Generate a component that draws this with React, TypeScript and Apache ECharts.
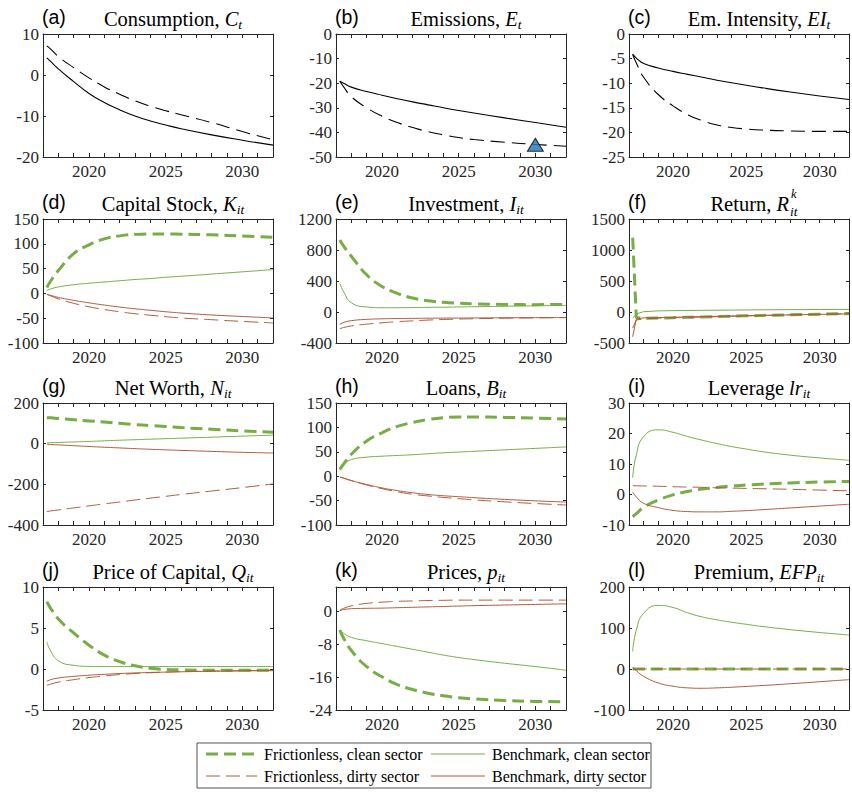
import React, { useEffect, useRef } from "react";
import * as echarts from "echarts";

// ---------- data ----------
const YEARS = [2017.25, 2017.5, 2018, 2019, 2020, 2021, 2022, 2023, 2024, 2025, 2026, 2028, 2030, 2032];
const X_LABELED = [2020, 2025, 2030];

// (a) Consumption
const consumptionFrictionless = [7.1, 6.3, 4.5, 1.8, -0.7, -2.9, -4.7, -6.3, -7.6, -8.7, -9.7, -11.6, -13.8, -15.8];
const consumptionBenchmark = [4.2, 3.3, 1.5, -1.6, -4.5, -6.7, -8.5, -10.0, -11.2, -12.2, -13.1, -14.6, -15.9, -17.1];
// (b) Emissions
const emissionsFrictionless = [-19.2, -21.5, -25.5, -30.0, -33.4, -36.0, -38.0, -39.7, -41.0, -42.1, -42.9, -44.0, -44.9, -45.6];
const emissionsBenchmark = [-19.2, -20.0, -21.6, -23.4, -24.9, -26.3, -27.6, -28.8, -30.0, -31.1, -32.1, -34.1, -36.0, -37.9];
const TARGET_YEAR = 2030;
const TARGET_VALUE = -45;
// (c) Emission intensity
const intensityFrictionless = [-4.2, -5.9, -8.8, -12.3, -14.6, -16.4, -17.6, -18.5, -19.0, -19.3, -19.5, -19.7, -19.8, -19.8];
const intensityBenchmark = [-4.1, -4.9, -6.0, -6.9, -7.6, -8.2, -8.8, -9.4, -9.9, -10.4, -10.9, -11.8, -12.6, -13.3];
// (d) Capital stock
const capitalFC = [12, 25, 46, 80, 98, 110, 116, 119, 120, 120, 119.5, 118, 115.5, 113];
const capitalBC = [6, 9, 13, 17.5, 20.5, 23, 25.5, 28, 30, 32.5, 34.5, 39, 43.5, 48];
const capitalFD = [-2, -5, -11, -20, -27, -32.5, -37, -41, -44, -47, -49.5, -53, -56.5, -59.5];
const capitalBD = [-2, -4, -8, -14, -19, -23.5, -27.5, -31, -34, -37, -39.5, -43.5, -46.5, -49.5];
// (e) Investment
const investmentFC = [930, 850, 720, 480, 330, 240, 180, 145, 125, 113, 106, 97, 95, 98];
const investmentBC = [370, 260, 120, 65, 55, 55, 57, 60, 62, 65, 68, 74, 80, 85];
const investmentFD = [-215, -200, -180, -157, -140, -125, -114, -104, -97, -91, -87, -80, -76, -72];
const investmentBD = [-160, -135, -112, -95, -88, -84, -82, -80, -79, -78, -77, -75, -73, -72];
// (f) Return
const returnFC = [1200, -90, -100, -97, -92, -86, -80, -74, -68, -62, -56, -45, -35, -25];
const returnBC = [-100, -30, 5, 18, 22, 25, 27, 29, 31, 33, 35, 38, 40, 42];
const returnFD = [-260, -130, -110, -100, -93, -87, -81, -75, -69, -63, -57, -46, -36, -27];
const returnBD = [-400, -110, -95, -90, -86, -80, -75, -70, -65, -60, -55, -46, -38, -30];
// (g) Net worth
const netWorthFC = [128, 127, 124, 118, 112, 106, 100, 94, 89, 84, 79, 71, 63, 56];
const netWorthBC = [4, 5, 6, 8.5, 11, 14, 17, 19.5, 22, 24.5, 27, 32, 37, 42];
const netWorthFD = [-334, -331, -326, -316, -306, -296, -287, -277, -268, -259, -250, -233, -216, -198];
const netWorthBD = [-3, -4, -6, -10, -14, -17.5, -21, -24.5, -27.5, -30.5, -33, -38, -42.5, -46];
// (h) Loans
const loansFC = [14, 25, 45, 72, 89, 102, 110, 116, 120, 121.5, 121.5, 120.5, 119, 117];
const loansBC = [12, 24, 34, 39, 41, 42.5, 44, 46, 48, 49.5, 51, 54, 57, 60];
const loansFD = [-2, -4, -9, -18, -25.5, -32, -37, -40.5, -43.5, -46, -48.5, -52.5, -56, -59];
const loansBD = [-2, -4, -9, -17, -24, -29.5, -34, -37.5, -40, -42, -44, -47.5, -50.5, -53];
// (i) Leverage
const leverageFC = [-7.3, -6.3, -4.2, -1.8, -0.1, 1.0, 1.8, 2.3, 2.8, 3.1, 3.4, 3.8, 4.1, 4.3];
const leverageBC = [5.5, 13, 19, 21.2, 20.4, 19, 17.8, 16.7, 15.7, 14.9, 14.1, 12.9, 12.0, 11.2];
const leverageFD = [2.9, 2.85, 2.8, 2.7, 2.55, 2.45, 2.35, 2.2, 2.1, 2.0, 1.9, 1.7, 1.45, 1.2];
const leverageBD = [0.8, -0.8, -2.9, -4.3, -5.2, -5.6, -5.7, -5.7, -5.5, -5.3, -5.0, -4.4, -3.8, -3.2];
// (j) Price of capital
const qFC = [8.2, 7.4, 6.1, 4.4, 2.9, 1.7, 0.9, 0.4, 0.1, -0.05, -0.1, -0.15, -0.15, -0.15];
const qBC = [3.3, 2.2, 1.0, 0.45, 0.32, 0.3, 0.3, 0.3, 0.3, 0.3, 0.3, 0.3, 0.3, 0.3];
const qFD = [-2.0, -1.85, -1.6, -1.3, -1.05, -0.85, -0.68, -0.55, -0.45, -0.38, -0.32, -0.25, -0.2, -0.15];
const qBD = [-1.5, -1.3, -1.1, -0.9, -0.75, -0.65, -0.55, -0.48, -0.42, -0.38, -0.34, -0.28, -0.23, -0.2];
// (k) Prices
const pricesFC = [-4.5, -6.5, -9.5, -13.4, -15.9, -17.8, -19.0, -19.9, -20.5, -21.0, -21.3, -21.7, -21.9, -22.0];
const pricesBC = [-4.5, -5.3, -6.3, -7.1, -7.8, -8.5, -9.2, -9.9, -10.6, -11.2, -11.7, -12.6, -13.4, -14.3];
const pricesFD = [0.3, 0.8, 1.4, 2.0, 2.3, 2.5, 2.6, 2.7, 2.75, 2.8, 2.8, 2.8, 2.8, 2.8];
const pricesBD = [0.2, 0.5, 0.7, 0.8, 0.85, 0.95, 1.05, 1.15, 1.25, 1.35, 1.45, 1.6, 1.75, 1.9];
// (l) Premium
const premiumFC = [0, 0, 0, 0, 0, 0, 0, 0, 0, 0, 0, 0, 0, 0];
const premiumBC = [43, 95, 136, 155, 150, 137, 127, 120, 114, 109, 104, 96, 89, 83];
const premiumFD = [0, 0, 0, 0, 0, 0, 0, 0, 0, 0, 0, 0, 0, 0];
const premiumBD = [5, -4, -18, -34, -42, -46, -47, -46, -44.5, -42.5, -40.5, -36, -31, -26];

const LEGEND_LABELS = [
  "Frictionless, clean sector",
  "Benchmark, clean sector",
  "Frictionless, dirty sector",
  "Benchmark, dirty sector",
];

// ---------- styles ----------
const AXIS = "#262626";
const GREEN = "#77AD45";
const BROWN = "#B05A3C";
const BLACK = "#000000";
const SERIF = "Liberation Serif";
const SANS = "Liberation Sans";

const STYLE_FC = { color: GREEN, width: 3, type: [12, 6] as any };
const STYLE_BC = { color: GREEN, width: 1, type: "solid" as any };
const STYLE_FD = { color: BROWN, width: 1, type: [14, 6] as any };
const STYLE_BD = { color: BROWN, width: 1, type: "solid" as any };
const STYLE_KD = { color: BLACK, width: 1.1, type: [14, 7] as any };
const STYLE_KS = { color: BLACK, width: 1.1, type: "solid" as any };

const COL_LEFT = [43, 336, 629];
const ROW_TOP = [34, 219, 403, 587];
const ROW_H = [123, 124, 122, 123];
const PLOT_W = 230;

type Line = { data: number[]; style: any };
type Panel = {
  letter: string;
  title: string | null;
  yMin: number;
  yMax: number;
  yInt: number;
  smooth: boolean;
  lines: Line[];
};

const sectorLines = (fc: number[], bc: number[], fd: number[], bd: number[]): Line[] => [
  { data: fc, style: STYLE_FC },
  { data: bc, style: STYLE_BC },
  { data: fd, style: STYLE_FD },
  { data: bd, style: STYLE_BD },
];

const PANELS: Panel[] = [
  { letter: "(a)", title: "{r|Consumption, }{i|C}{s|t}", yMin: -20, yMax: 10, yInt: 10, smooth: true,
    lines: [{ data: consumptionFrictionless, style: STYLE_KD }, { data: consumptionBenchmark, style: STYLE_KS }] },
  { letter: "(b)", title: "{r|Emissions, }{i|E}{s|t}", yMin: -50, yMax: 0, yInt: 10, smooth: true,
    lines: [{ data: emissionsFrictionless, style: STYLE_KD }, { data: emissionsBenchmark, style: STYLE_KS }] },
  { letter: "(c)", title: "{r|Em. Intensity, }{i|EI}{s|t}", yMin: -25, yMax: 0, yInt: 5, smooth: true,
    lines: [{ data: intensityFrictionless, style: STYLE_KD }, { data: intensityBenchmark, style: STYLE_KS }] },
  { letter: "(d)", title: "{r|Capital Stock, }{i|K}{s|it}", yMin: -100, yMax: 150, yInt: 50, smooth: true,
    lines: sectorLines(capitalFC, capitalBC, capitalFD, capitalBD) },
  { letter: "(e)", title: "{r|Investment, }{i|I}{s|it}", yMin: -400, yMax: 1200, yInt: 400, smooth: true,
    lines: sectorLines(investmentFC, investmentBC, investmentFD, investmentBD) },
  { letter: "(f)", title: null, yMin: -500, yMax: 1500, yInt: 500, smooth: false,
    lines: sectorLines(returnFC, returnBC, returnFD, returnBD) },
  { letter: "(g)", title: "{r|Net Worth, }{i|N}{s|it}", yMin: -400, yMax: 200, yInt: 200, smooth: true,
    lines: sectorLines(netWorthFC, netWorthBC, netWorthFD, netWorthBD) },
  { letter: "(h)", title: "{r|Loans, }{i|B}{s|it}", yMin: -100, yMax: 150, yInt: 50, smooth: true,
    lines: sectorLines(loansFC, loansBC, loansFD, loansBD) },
  { letter: "(i)", title: "{r|Leverage }{i|lr}{s|it}", yMin: -10, yMax: 30, yInt: 10, smooth: true,
    lines: sectorLines(leverageFC, leverageBC, leverageFD, leverageBD) },
  { letter: "(j)", title: "{r|Price of Capital, }{i|Q}{s|it}", yMin: -5, yMax: 10, yInt: 5, smooth: true,
    lines: sectorLines(qFC, qBC, qFD, qBD) },
  { letter: "(k)", title: "{r|Prices, }{i|p}{s|it}", yMin: -24, yMax: 6, yInt: 8, smooth: true,
    lines: sectorLines(pricesFC, pricesBC, pricesFD, pricesBD) },
  { letter: "(l)", title: "{r|Premium, }{i|EFP}{s|it}", yMin: -100, yMax: 200, yInt: 100, smooth: true,
    lines: sectorLines(premiumFC, premiumBC, premiumFD, premiumBD) },
];

const TITLE_FS = 20.5;
const TITLE_RICH = {
  r: { fontFamily: SERIF, fontSize: TITLE_FS, fontStyle: "normal", color: "#000", lineHeight: 25, verticalAlign: "middle" },
  i: { fontFamily: SERIF, fontSize: TITLE_FS, fontStyle: "italic", color: "#000", lineHeight: 25, verticalAlign: "middle" },
  s: { fontFamily: SERIF, fontSize: 13.5, fontStyle: "italic", color: "#000", lineHeight: 14, verticalAlign: "bottom" },
};

function buildOption() {
  const grid: any[] = [];
  const xAxis: any[] = [];
  const yAxis: any[] = [];
  const series: any[] = [];
  const graphic: any[] = [];

  const axisLine = { show: true, onZero: false, lineStyle: { color: AXIS, width: 1 } };
  const tick = (len: number) => ({ show: true, inside: true, length: len, lineStyle: { color: AXIS, width: 1 } });

  PANELS.forEach((p, i) => {
    const r = Math.floor(i / 3);
    const c = i % 3;
    const left = COL_LEFT[c];
    const top = ROW_TOP[r];
    grid.push({ left, top, width: PLOT_W, height: ROW_H[r], containLabel: false });

    const xBase = { type: "value", gridIndex: i, min: 2017, max: 2032, interval: 1, splitLine: { show: false }, axisLine };
    xAxis.push({
      ...xBase, position: "bottom", axisTick: tick(4),
      axisLabel: {
        show: true, margin: 6, fontFamily: SERIF, fontSize: 17, color: AXIS,
        formatter: (v: number) => (X_LABELED.includes(v) ? String(v) : ""),
      },
    });
    xAxis.push({ ...xBase, position: "top", axisTick: tick(4), axisLabel: { show: false } });

    const yBase = { type: "value", gridIndex: i, min: p.yMin, max: p.yMax, interval: p.yInt, splitLine: { show: false }, axisLine };
    yAxis.push({
      ...yBase, position: "left", axisTick: tick(3),
      axisLabel: {
        show: true, margin: 4, fontFamily: SERIF, fontSize: 17, color: AXIS,
        formatter: (v: number) => ((v - p.yMin) % p.yInt === 0 ? String(v) : ""),
      },
    });
    yAxis.push({ ...yBase, position: "right", axisTick: tick(3), axisLabel: { show: false } });

    p.lines.forEach((l, k) => {
      series.push({
        type: "line",
        xAxisIndex: 2 * i,
        yAxisIndex: 2 * i,
        data: YEARS.map((x, j) => [x, l.data[j]]),
        symbol: "none",
        showSymbol: false,
        smooth: p.smooth ? 0.5 : false,
        lineStyle: { ...l.style, cap: "butt" },
        z: 2 + k,
        silent: true,
      });
    });

    // panel letter
    graphic.push({
      type: "text",
      x: left - 1,
      y: top - 17,
      style: { text: p.letter, fontFamily: SANS, fontSize: 19.5, fill: "#000", align: "left", verticalAlign: "middle" },
    });
    // title
    if (p.title) {
      graphic.push({
        type: "text",
        x: left + 130,
        y: top - 15,
        style: {
          text: p.title,
          fontFamily: SERIF,
          fontSize: TITLE_FS,
          lineHeight: 25,
          fill: "#000",
          align: "center",
          verticalAlign: "middle",
          rich: TITLE_RICH,
        },
      });
    }
  });

  // title of panel (f): Return, R^k_it (super- and subscript stacked)
  const fTop = ROW_TOP[1];
  graphic.push({
    type: "text",
    x: 789,
    y: fTop - 15,
    style: {
      text: "{r|Return, }{i|R}",
      fontFamily: SERIF,
      fontSize: TITLE_FS,
      lineHeight: 20,
      fill: "#000",
      align: "right",
      verticalAlign: "middle",
      rich: {
        r: { fontFamily: SERIF, fontSize: TITLE_FS, color: "#000", lineHeight: 20 },
        i: { fontFamily: SERIF, fontSize: TITLE_FS, fontStyle: "italic", color: "#000", lineHeight: 20 },
      },
    },
  });
  graphic.push({
    type: "text",
    x: 791,
    y: fTop - 25,
    style: { text: "k", fontFamily: SERIF, fontStyle: "italic", fontSize: 12.5, lineHeight: 12, fill: "#000", align: "left", verticalAlign: "middle" },
  });
  graphic.push({
    type: "text",
    x: 790,
    y: fTop - 8,
    style: { text: "it", fontFamily: SERIF, fontStyle: "italic", fontSize: 13.5, lineHeight: 12, fill: "#000", align: "left", verticalAlign: "middle" },
  });

  // target marker in panel (b)
  series.push({
    type: "scatter",
    xAxisIndex: 2,
    yAxisIndex: 2,
    data: [[TARGET_YEAR, TARGET_VALUE]],
    symbol: "triangle",
    symbolSize: [16, 13],
    itemStyle: { color: "#1F72BD", borderColor: "#000", borderWidth: 1 },
    z: 10,
    silent: true,
  });

  // legend box
  const LX = 197, LY = 743, LW = 454, LH = 45;
  graphic.push({
    type: "rect",
    shape: { x: LX, y: LY, width: LW, height: LH },
    style: { fill: "#fff", stroke: AXIS, lineWidth: 0.8 },
  });
  const legendStyles = [STYLE_FC, STYLE_BC, STYLE_FD, STYLE_BD];
  legendStyles.forEach((s, k) => {
    const col = k % 2;
    const row = Math.floor(k / 2);
    const y = row === 0 ? 754 : 776;
    const x1 = col === 0 ? 206 : 431;
    const x2 = col === 0 ? 257 : 485;
    const tx = col === 0 ? 264 : 492;
    graphic.push({
      type: "line",
      shape: { x1, y1: y, x2, y2: y },
      style: { stroke: s.color, lineWidth: s.width, lineDash: Array.isArray(s.type) ? s.type : null, lineCap: "butt" },
    });
    graphic.push({
      type: "text",
      x: tx,
      y,
      style: { text: LEGEND_LABELS[k], fontFamily: SERIF, fontSize: 16, fill: "#000", align: "left", verticalAlign: "middle" },
    });
  });

  return {
    animation: false,
    backgroundColor: "#ffffff",
    grid,
    xAxis,
    yAxis,
    series,
    graphic,
  };
}

export default function App() {
  const ref = useRef<HTMLDivElement>(null);
  useEffect(() => {
    if (!ref.current) return;
    const chart = echarts.init(ref.current, undefined, { renderer: "svg" });
    chart.setOption(buildOption() as any);
    return () => chart.dispose();
  }, []);
  return (
    <div
      ref={ref}
      style={{ position: "absolute", left: 0, top: 0, width: 852, height: 798, background: "#fff" }}
    />
  );
}
